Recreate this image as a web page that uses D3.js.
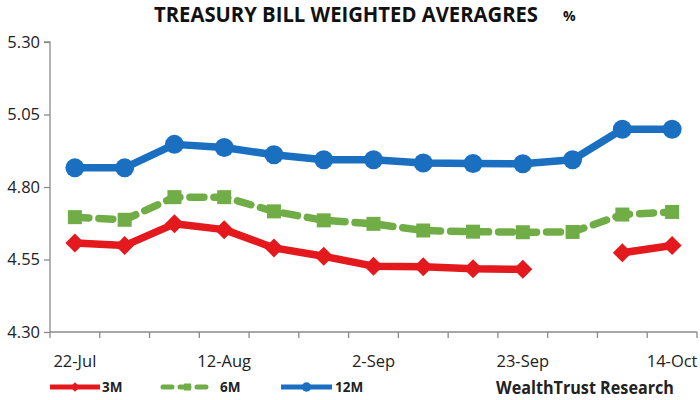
<!DOCTYPE html>
<html><head><meta charset="utf-8">
<script src="https://cdn.jsdelivr.net/npm/d3@7/dist/d3.min.js"></script>
<style>body{margin:0;background:#fff}svg{display:block}</style>
</head><body><svg id="c" width="700" height="400"></svg>
<script>
const categories = ["22-Jul","29-Jul","5-Aug","12-Aug","19-Aug","26-Aug","2-Sep","9-Sep","16-Sep","23-Sep","30-Sep","7-Oct","14-Oct"];
const tickLabels = ["22-Jul","12-Aug","2-Sep","23-Sep","14-Oct"];
const yTicks = [4.30, 4.55, 4.80, 5.05, 5.30];
const m3  = [4.607,4.598,4.673,4.653,4.590,4.561,4.527,4.525,4.518,4.516,null,4.573,4.598];
const m6  = [4.696,4.687,4.765,4.765,4.716,4.685,4.673,4.650,4.646,4.644,4.645,4.705,4.714];
const m12 = [4.866,4.866,4.947,4.936,4.911,4.894,4.894,4.883,4.881,4.880,4.894,4.999,4.999];

const svg = d3.select("#c");
const L = 50, R = 697, T = 42, B = 332;
const x = d3.scaleBand().domain(categories).range([L, R]);
const y = d3.scaleLinear().domain([4.30, 5.30]).range([B, T]);
const font = "'Open Sans', 'DejaVu Sans', sans-serif";

// title
svg.append("text").attr("x", 154).attr("y", 22).attr("font-family", font)
  .attr("font-weight", "bold").attr("font-size", 21).attr("fill", "#111")
  .attr("textLength", 384).attr("lengthAdjust", "spacingAndGlyphs")
  .text("TREASURY BILL WEIGHTED AVERAGRES");
svg.append("text").attr("x", 563).attr("y", 21).attr("font-family", font)
  .attr("font-weight", "bold").attr("font-size", 14).attr("fill", "#111").text("%");

// axes
const axisColor = "#8a8a8a";
const yAxis = svg.append("g").attr("transform", `translate(${L},0)`)
  .call(d3.axisLeft(y).tickValues(yTicks).tickFormat(d3.format(".2f")).tickSize(6).tickPadding(4));
yAxis.selectAll("path,line").attr("stroke", axisColor).attr("stroke-width", 1.3);
yAxis.select(".domain").attr("d", `M-6,${T}H0V${B}`);
yAxis.selectAll("text").attr("font-family", font).attr("font-size", 16.5).attr("fill", "#222");

const xAxis = svg.append("g").attr("transform", `translate(0,${B})`)
  .call(d3.axisBottom(x).tickSize(0).tickFormat(""));
xAxis.select(".domain").attr("stroke", axisColor).attr("stroke-width", 1.3).attr("d", `M${L},0H${R}`);
xAxis.selectAll(".tick").remove();
const bounds = categories.map(c => x(c)).concat([R]);
xAxis.selectAll("line.b").data(bounds).join("line").attr("class","b")
  .attr("x1", d => d).attr("x2", d => d).attr("y1", 0).attr("y2", 6)
  .attr("stroke", axisColor).attr("stroke-width", 1.3);
xAxis.selectAll("text.l").data(tickLabels).join("text").attr("class","l")
  .attr("x", d => x(d) + x.bandwidth()/2).attr("y", 35).attr("text-anchor", "middle")
  .attr("font-family", font).attr("font-size", 16.5).attr("fill", "#222").text(d => d);

const cx = i => x(categories[i]) + x.bandwidth()/2;
const lineIdx = d3.line().defined(d => d.v != null).x(d => cx(d.i)).y(d => y(d.v));

const series = [
  {name:"3M", data:m3, color:"#e3191e", dash:null, shape:"diamond"},
  {name:"6M", data:m6, color:"#70ad47", dash:"14,10", shape:"square"},
  {name:"12M", data:m12, color:"#1a6fc1", dash:null, shape:"circle"}
];
function marker(g, shape, color, px, py, s) {
  if (shape === "circle") g.append("circle").attr("cx", px).attr("cy", py).attr("r", 9.5*s).attr("fill", color);
  else if (shape === "square") g.append("rect").attr("x", px-7*s).attr("y", py-7*s).attr("width", 14*s).attr("height", 14*s).attr("fill", color);
  else g.append("path").attr("d", `M${px},${py-9.5*s}L${px+9.5*s},${py}L${px},${py+9.5*s}L${px-9.5*s},${py}Z`).attr("fill", color);
}
series.forEach(s => {
  const pts = s.data.map((v, i) => ({v, i}));
  svg.append("path").datum(pts).attr("d", lineIdx).attr("fill", "none")
    .attr("stroke", s.color).attr("stroke-width", 7.5).attr("stroke-linejoin", "round")
    .attr("stroke-linecap", s.dash ? "round" : "butt")
    .attr("stroke-dasharray", s.dash);
  const g = svg.append("g");
  pts.filter(d => d.v != null).forEach(d => marker(g, s.shape, s.color, cx(d.i), y(d.v), 1));
});

// legend
const legY = 387;
const leg = [
  {s: series[0], x1: 50, x2: 100, tx: 102},
  {s: series[1], x1: 163, x2: 212, tx: 220},
  {s: series[2], x1: 281, x2: 332, tx: 335}
];
leg.forEach(l => {
  svg.append("line").attr("x1", l.x1).attr("x2", l.x2).attr("y1", legY).attr("y2", legY)
    .attr("stroke", l.s.color).attr("stroke-width", 5)
    .attr("stroke-dasharray", l.s.dash ? "9,8" : null).attr("stroke-linecap", l.s.dash ? "round" : "butt");
  marker(svg, l.s.shape, l.s.color, (l.x1 + l.x2)/2, legY, 0.5);
  svg.append("text").attr("x", l.tx).attr("y", legY + 5).attr("font-family", font)
    .attr("font-weight", "bold").attr("font-size", 13.5).attr("fill", "#222").text(l.s.name);
});
svg.append("text").attr("x", 496).attr("y", 394).attr("font-family", font)
  .attr("font-weight", "bold").attr("font-size", 17).attr("fill", "#222")
  .attr("textLength", 178).attr("lengthAdjust", "spacingAndGlyphs").text("WealthTrust Research");
</script></body></html>
